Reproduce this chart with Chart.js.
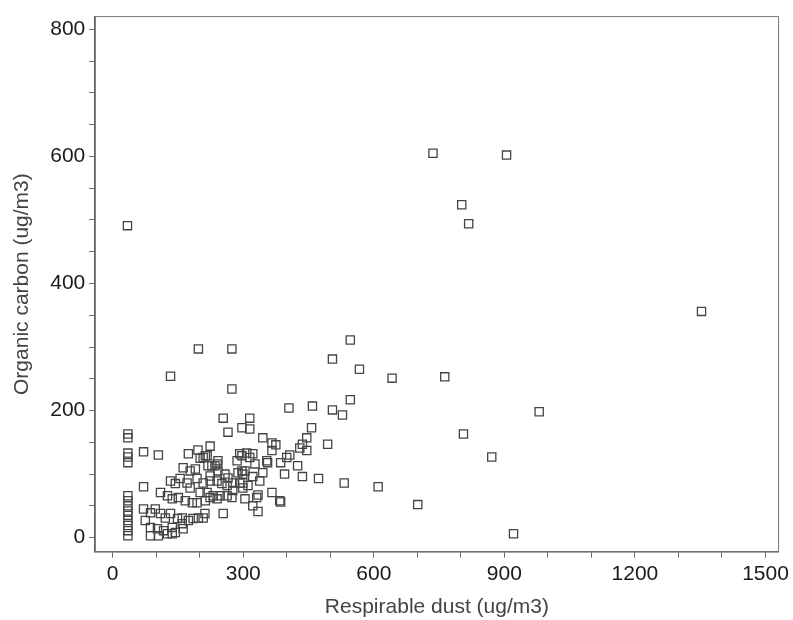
<!DOCTYPE html>
<html>
<head>
<meta charset="utf-8">
<script src="https://cdn.jsdelivr.net/npm/chart.js@4/dist/chart.umd.min.js"></script>
<style>
  html, body { margin: 0; padding: 0; background: #fff; }
  #wrap { width: 793px; height: 620px; position: relative; }
</style>
</head>
<body>
<div id="wrap"><canvas id="scatter"></canvas></div>
<script>
// Respirable dust (x) vs organic carbon (y), ug/m3
const dustX = [
  34, 35, 35, 35, 35, 35, 35, 35, 35, 35, 35, 35, 35, 35, 35,
  71, 105, 71, 133, 197, 274, 274, 174,
  196, 201, 217, 224, 162, 178, 190, 219, 235, 242,
  258, 265, 286, 292, 308, 288, 304, 299, 311, 304,
  133, 144, 155, 171, 178, 194, 208, 224, 240, 251, 263, 276,
  201, 217, 231, 247, 263,
  110, 126, 137, 151, 167, 183, 194,
  71, 87, 98, 110, 121, 133, 149, 160, 174, 185, 197, 208,
  75, 87, 103, 117, 137, 144, 160, 162,
  87, 105, 126, 137, 254, 212,
  546, 505, 567, 642, 546, 405, 459, 505, 528,
  254, 315, 265, 297, 315, 457, 446, 436, 430, 446, 494,
  345, 366, 375, 366, 213, 407, 425, 386, 356, 322, 327, 297, 315,
  297, 299, 395, 436, 473, 532, 610, 366, 384, 334, 322, 334,
  345, 338, 322, 292, 299, 276, 274, 240, 224, 213,
  240, 228, 242, 224, 208, 386, 331, 354, 400,
  763, 980, 806, 871, 701, 921, 736, 905, 802, 818, 1353
];
const carbonY = [
  491, 163, 157, 133, 127, 118, 66, 58, 50, 42, 35, 27, 19, 11, 3,
  135, 130, 80, 254, 297, 297, 234, 132,
  138, 125, 129, 144, 110, 105, 108, 113, 113, 121,
  100, 94, 121, 132, 133, 102, 105, 86, 82, 61,
  89, 85, 93, 86, 78, 93, 86, 89, 89, 85, 82, 86,
  71, 71, 66, 66, 66,
  71, 66, 61, 63, 58, 55, 55,
  45, 39, 45, 38, 31, 38, 30, 31, 27, 30, 31, 31,
  27, 16, 14, 11, 16, 8, 22, 14,
  3, 3, 6, 6, 38, 38,
  311, 281, 265, 251, 217, 204, 207, 201, 193,
  188, 188, 166, 173, 171, 173, 157, 147, 141, 137, 147,
  157, 149, 146, 137, 129, 130, 113, 118, 118, 132, 116, 129, 126,
  105, 100, 100, 96, 93, 86, 80, 71, 58, 67, 50, 41,
  102, 89, 96, 86, 78, 74, 63, 61, 63, 58,
  116, 113, 105, 97, 126, 56, 63, 121, 126,
  253, 198, 163, 127, 52, 6, 605, 602, 524, 494, 356
];

// tick labels and minor tick spacing
const xTicks = [0, 300, 600, 900, 1200, 1500];
const yTicks = [0, 200, 400, 600, 800];
const xMinorStep = 100;
const yMinorStep = 50;

const points = dustX.map((x, i) => ({ x: x, y: carbonY[i] }));

function minorTicks(step, from, to) {
    const out = [];
    for (let v = from; v <= to; v += step) out.push({ value: v });
    return out;
}

// box around the plot area (top and right edges of the frame)
const frame = {
    id: 'frame',
    afterDraw(chart) {
        const a = chart.chartArea;
        const ctx = chart.ctx;
        ctx.save();
        ctx.strokeStyle = '#777';
        ctx.lineWidth = 1;
        ctx.strokeRect(a.left, a.top, a.right - a.left, a.bottom - a.top);
        ctx.restore();
    }
};

new Chart(document.getElementById('scatter'), {
    type: 'scatter',
    data: {
        datasets: [{
            data: points,
            pointStyle: 'rect',
            radius: 5.8,
            borderWidth: 1.3,
            borderColor: '#444',
            backgroundColor: 'rgba(0,0,0,0)'
        }]
    },
    options: {
        responsive: true,
        maintainAspectRatio: false,
        animation: false,
        events: [],
        layout: { padding: { left: 0, top: 15, right: 5, bottom: 0 } },
        plugins: {
            legend: { display: false },
            tooltip: { enabled: false }
        },
        scales: {
            x: {
                type: 'linear',
                min: -40,
                max: 1530,
                afterBuildTicks: s => { s.ticks = minorTicks(xMinorStep, 0, 1500); },
                ticks: {
                    autoSkip: false,
                    maxRotation: 0,
                    padding: 4,
                    color: '#1a1a1a',
                    font: { family: 'Liberation Sans, Arial, sans-serif', size: 21 },
                    callback: v => xTicks.includes(v) ? String(v) : ''
                },
                grid: { drawOnChartArea: false, tickLength: 6, color: '#666' },
                border: { color: '#555', width: 1.5 },
                title: {
                    display: true,
                    text: 'Respirable dust (ug/m3)',
                    color: '#444',
                    font: { family: 'Liberation Sans, Arial, sans-serif', size: 21 },
                    padding: { top: 4, bottom: 0 }
                }
            },
            y: {
                type: 'linear',
                min: -22,
                max: 820,
                afterBuildTicks: s => { s.ticks = minorTicks(yMinorStep, 0, 800); },
                ticks: {
                    autoSkip: false,
                    padding: 4,
                    color: '#1a1a1a',
                    font: { family: 'Liberation Sans, Arial, sans-serif', size: 21 },
                    callback: v => yTicks.includes(v) ? String(v) : ''
                },
                grid: { drawOnChartArea: false, tickLength: 6, color: '#666' },
                border: { color: '#555', width: 1.5 },
                title: {
                    display: true,
                    text: 'Organic carbon (ug/m3)',
                    color: '#444',
                    font: { family: 'Liberation Sans, Arial, sans-serif', size: 21 },
                    padding: { top: 10, bottom: 11 }
                }
            }
        }
    },
    plugins: [frame]
});
</script>
</body>
</html>
